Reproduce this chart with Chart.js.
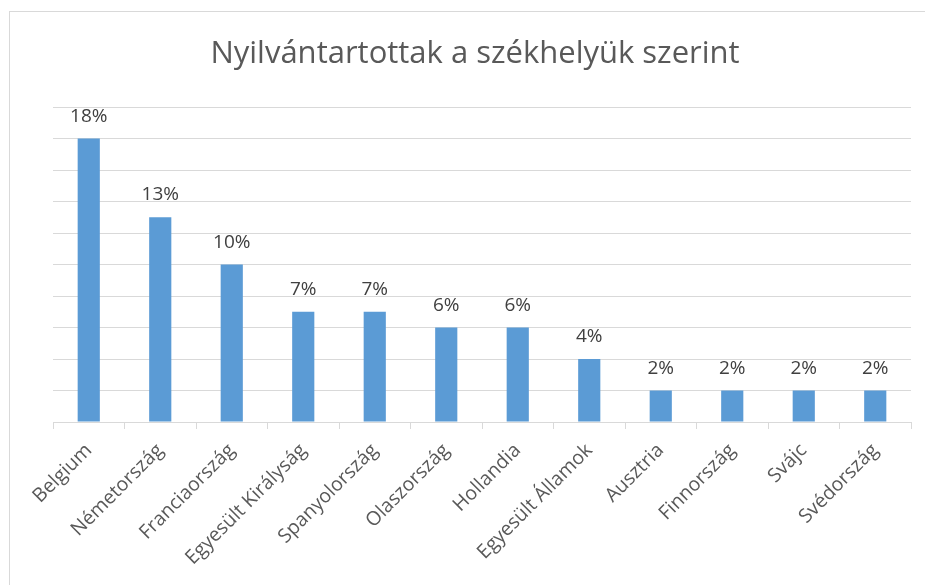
<!DOCTYPE html>
<html>
<head>
<meta charset="utf-8">
<script src="https://cdn.jsdelivr.net/npm/chart.js@4"></script>
<style>
  html, body { margin: 0; padding: 0; background: #fff; overflow: hidden; }
  #frame { position: absolute; left: 9px; top: 11px; width: 940px; height: 600px; border: 1px solid #d9d9d9; }
  #wrap { position: absolute; left: 0; top: 0; width: 925px; height: 585px; }
</style>
</head>
<body>
<div id="frame"></div>
<div id="wrap"><canvas id="chart" width="925" height="585"></canvas></div>
<script>
// data
const chartTitle = 'Nyilvántartottak a székhelyük szerint';
const countries = ['Belgium', 'Németország', 'Franciaország', 'Egyesült Királyság', 'Spanyolország',
  'Olaszország', 'Hollandia', 'Egyesült Államok', 'Ausztria', 'Finnország', 'Svájc', 'Svédország'];
const shares = [18, 13, 10, 7, 7, 6, 6, 4, 2, 2, 2, 2];
const yTicks = [0, 2, 4, 6, 8, 10, 12, 14, 16, 18, 20];

// title centred over the whole frame, not only the plot
const frameTitle = {
  id: 'frameTitle',
  afterDraw(chart) {
    const { ctx } = chart;
    ctx.save();
    ctx.font = '31px "Open Sans"';
    ctx.fillStyle = '#595959';
    ctx.textAlign = 'center';
    ctx.textBaseline = 'middle';
    ctx.fillText(chartTitle, 475, 54);
    ctx.restore();
  }
};

// value labels above bars
const barLabels = {
  id: 'barLabels',
  afterDatasetsDraw(chart) {
    const { ctx } = chart;
    const meta = chart.getDatasetMeta(0);
    ctx.save();
    ctx.font = '19px "Open Sans"';
    ctx.fillStyle = '#404040';
    ctx.textAlign = 'center';
    ctx.textBaseline = 'alphabetic';
    meta.data.forEach((bar, i) => {
      ctx.fillText(shares[i] + '%', bar.x, bar.y - 17);
    });
    ctx.restore();
  }
};

const config = {
  type: 'bar',
  data: {
    labels: countries,
    datasets: [{
      data: shares,
      backgroundColor: '#5b9bd5',
      borderWidth: 0,
      barPercentage: 0.31,
      categoryPercentage: 1
    }]
  },
  options: {
    responsive: false,
    animation: false,
    events: [],
    layout: { padding: { left: 53, right: 14, top: 107, bottom: 0 } },
    plugins: {
      legend: { display: false },
      tooltip: { enabled: false },
      title: { display: false }
    },
    scales: {
      x: {
        grid: { display: true, drawOnChartArea: false, drawTicks: true, tickLength: 7, color: '#d9d9d9', offset: true },
        border: { display: true, color: '#d9d9d9' },
        ticks: {
          color: '#595959',
          font: { family: '"Open Sans"', size: 19.5 },
          maxRotation: 45, minRotation: 45, autoSkip: false, padding: 10
        },
        afterFit(scale) { scale.height = 585 - 422; }
      },
      y: {
        min: 0, max: 20,
        afterBuildTicks(scale) { scale.ticks = yTicks.map(v => ({ value: v })); },
        grid: { color: '#d9d9d9', drawTicks: false },
        border: { display: false },
        ticks: { display: false },
        afterFit(scale) { scale.width = 0; }
      }
    }
  },
  plugins: [barLabels, frameTitle]
};

const myChart = new Chart(document.getElementById('chart'), config);
</script>
</body>
</html>
